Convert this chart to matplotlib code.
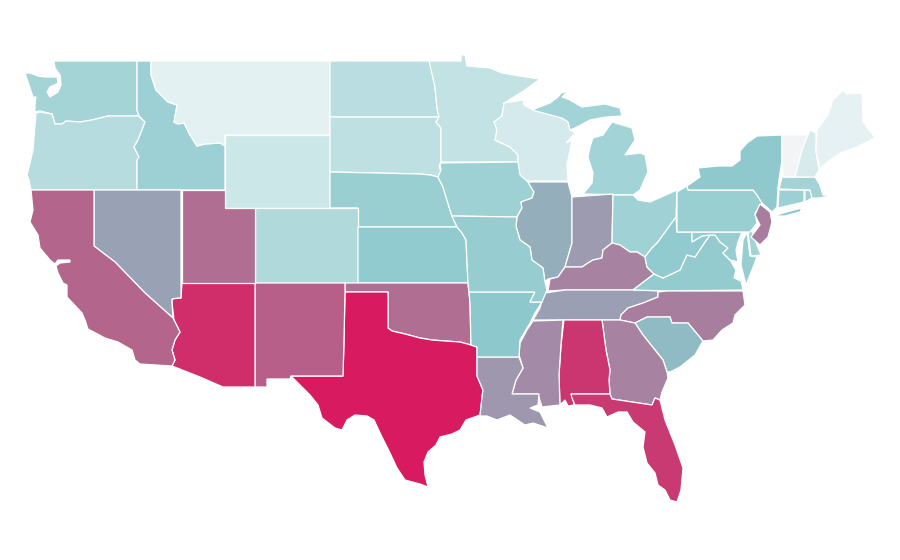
import matplotlib
matplotlib.use('Agg')
import matplotlib.pyplot as plt
from matplotlib.colors import LinearSegmentedColormap, Normalize

# state outlines
WA = [(54,61),(137,61),(137,110),(138,113),(139,116),(108,116),(100,118),(92,120),(80,122),(66,121),(62,124),(55,124),(52,114),(40,111),(35,112),(35,105),(36,97),(33,97),(30,88),(25,73),(30,73),(38,76),(45,77),(57,77),(58,83),(50,87),(47,92),(50,97),(58,92),(61,85),(60,75),(55,68)]
OR = [(36,113),(40,112),(52,114),(55,124),(62,124),(66,121),(80,122),(92,120),(100,118),(108,116),(139,116),(145,122),(142,130),(138,140),(134,147),(139,157),(137,160),(137,190),(31,190),(29,180),(27,175),(30,163),(33,150),(34,138)]
ID = [(137,61),(151,61),(151,75),(156,90),(168,102),(177,105),(174,122),(178,124),(184,123),(190,135),(197,146),(205,144),(220,143),(225,146),(225,190),(137,190),(137,160),(139,157),(134,147),(138,140),(142,130),(145,122),(139,116),(137,110)]
MT = [(151,61),(330,61),(330,135),(225,135),(225,146),(220,143),(205,144),(197,146),(190,135),(184,123),(178,124),(174,122),(177,105),(168,102),(156,90),(151,75)]
WY = [(225,135),(330,135),(330,208),(225,208)]
ND = [(330,61),(429,61),(430,63),(435,87),(437,108),(439,117),(330,117)]
SD = [(330,117),(439,117),(436,122),(441,128),(441,162),(439,166),(441,172),(438,177),(430,175),(420,174),(330,172)]
NE = [(330,172),(420,174),(430,175),(438,177),(443,187),(447,200),(450,210),(452,216),(457,227),(358,227),(358,208),(330,208)]
CO = [(255,208),(358,208),(358,283),(255,283)]
KS = [(358,227),(457,227),(462,233),(466,240),(468,283),(358,283)]
OK = [(345,283),(468,283),(470,303),(471,345),(460,342),(445,341),(432,340),(420,338),(405,334),(392,331),(388,328),(388,292),(345,292)]
TX = [(345,292),(388,292),(388,328),(392,331),(405,334),(420,338),(432,340),(445,341),(460,342),(471,345),(477,347),(477,376),(483,390),(480,415),(466,420),(460,430),(452,434),(440,437),(436,445),(428,452),(424,462),(425,475),(428,487),(420,484),(405,480),(397,468),(390,453),(382,437),(374,420),(367,416),(355,415),(347,420),(342,430),(335,428),(322,418),(318,405),(310,395),(300,385),(291,376),(343,376),(344,340)]
NM = [(255,283),(345,283),(345,292),(344,340),(343,376),(291,376),(290,379),(267,379),(267,387),(255,387)]
AZ = [(182,283),(255,283),(255,387),(223,387),(200,377),(172,366),(175,360),(172,350),(175,340),(180,332),(174,320),(172,303),(172,299),(178,298),(181,298)]
NV = [(94,190),(181,190),(181,298),(178,298),(172,299),(172,303),(173,318),(145,293),(115,262),(94,246)]
CA = [(31,190),(94,190),(94,246),(115,262),(145,293),(173,318),(180,332),(175,340),(172,350),(175,360),(172,366),(140,364),(135,360),(132,350),(118,342),(105,338),(88,329),(85,320),(82,313),(67,297),(67,285),(63,283),(58,273),(56,266),(60,263),(70,262),(70,260),(58,260),(55,264),(50,260),(40,248),(38,235),(30,222),(33,210)]
UT = [(182,190),(225,190),(225,208),(255,208),(255,283),(182,283)]
MN = [(429,61),(461,61),(461,55),(465,55),(467,66),(490,68),(502,73),(520,76),(540,79),(525,90),(504,103),(502,116),(494,122),(497,130),(495,140),(510,147),(518,155),(518,162),(441,162),(441,128),(436,122),(439,117),(437,108),(435,87)]
WI = [(504,103),(523,100),(524,105),(533,110),(562,118),(568,122),(570,130),(575,133),(566,143),(572,140),(570,150),(567,165),(568,181),(527,181),(520,177),(518,162),(518,155),(510,147),(495,140),(497,130),(494,122),(502,116)]
MI_UP = [(532,110),(550,103),(558,97),(561,93),(568,91),(562,97),(570,100),(582,107),(605,104),(620,108),(622,116),(606,117),(590,120),(575,128),(570,130),(568,122),(562,118)]
MI_LOW = [(612,122),(632,128),(635,140),(625,155),(640,153),(645,155),(648,172),(640,190),(633,195),(583,194),(592,183),(593,173),(588,157),(590,147),(593,138),(603,135)]
IA = [(440,163),(518,162),(520,175),(528,182),(534,192),(532,198),(521,202),(522,208),(517,217),(452,216),(450,210),(443,187),(438,177),(441,170)]
IL = [(528,182),(568,182),(572,197),(572,243),(565,267),(558,277),(548,279),(545,282),(543,268),(532,260),(530,247),(520,240),(516,226),(517,217),(522,208),(521,202),(532,198),(534,192)]
IN = [(572,197),(613,194),(612,243),(603,250),(602,258),(593,260),(588,263),(582,267),(565,267),(572,243)]
OH = [(613,195),(633,195),(638,200),(650,202),(677,190),(676,217),(658,242),(652,248),(645,257),(637,252),(630,252),(620,245),(612,243)]
KY = [(612,243),(620,245),(630,252),(637,252),(645,257),(647,267),(654,274),(633,290),(565,290),(548,291),(550,279),(558,277),(565,267),(582,267),(588,263),(593,260),(602,258),(603,250)]
TN = [(545,293),(565,290),(633,290),(667,291),(658,292),(658,297),(643,303),(628,308),(621,315),(620,320),(533,320),(540,308),(542,300)]
VA = [(654,274),(663,278),(680,270),(687,255),(695,257),(705,242),(710,235),(715,235),(720,242),(728,248),(723,253),(730,260),(736,270),(734,278),(741,281),(743,290),(667,291),(633,290)]
WV = [(645,257),(652,248),(658,242),(676,217),(677,232),(692,232),(692,242),(702,236),(710,235),(705,242),(695,257),(687,255),(680,270),(663,278),(654,274),(647,267)]
MD = [(692,232),(742,232),(738,242),(736,250),(738,262),(730,260),(723,253),(728,248),(720,242),(715,235),(710,235),(702,236),(692,242)]
MD_EAST = [(743,240),(747,232),(750,256),(757,257),(752,270),(746,285),(741,265)]
DE = [(748,232),(752,231),(757,245),(761,255),(751,256)]
PA = [(677,192),(687,186),(688,190),(753,190),(757,195),(762,203),(755,213),(757,223),(750,232),(677,232)]
NY = [(688,190),(687,186),(700,177),(698,168),(718,166),(732,166),(740,160),(740,151),(747,143),(757,136),(782,135),(782,160),(778,187),(777,207),(772,212),(762,203),(757,195),(753,190)]
LONG_ISLAND = [(773,216),(790,211),(802,208),(800,212),(785,216)]
NJ = [(760,204),(770,212),(772,222),(768,237),(760,245),(751,237),(760,225),(755,215)]
CT = [(779,190),(804,190),(804,202),(778,208)]
RI = [(805,190),(810,190),(812,198),(805,202)]
MA = [(782,177),(815,177),(820,185),(823,195),(832,195),(820,198),(812,198),(810,190),(779,189)]
VT = [(782,135),(808,135),(802,150),(795,177),(783,177),(782,160)]
NH = [(808,135),(810,130),(816,133),(816,152),(819,170),(815,177),(795,177),(802,150)]
ME = [(817,130),(828,115),(833,100),(843,90),(847,94),(862,93),(863,122),(875,138),(857,147),(840,153),(830,160),(820,168),(816,152)]
NC = [(667,291),(743,291),(745,305),(735,315),(733,323),(722,330),(713,340),(703,341),(688,323),(672,323),(670,317),(647,317),(635,323),(620,320),(621,315),(628,308),(643,303),(658,297),(658,292)]
SC = [(635,323),(647,317),(670,317),(672,323),(688,323),(703,341),(695,355),(680,367),(670,372),(667,372),(663,360),(655,350),(643,335)]
GA = [(602,320),(620,320),(635,323),(643,335),(655,350),(663,360),(667,372),(668,378),(662,392),(660,400),(655,398),(652,405),(612,399),(610,394),(609,380),(610,370),(606,350)]
AL = [(564,320),(602,320),(606,350),(610,370),(609,380),(610,394),(571,394),(573,398),(574,405),(568,406),(565,400),(560,405),(559,375),(561,345)]
FL = [(571,394),(610,394),(612,399),(652,405),(655,398),(660,400),(665,420),(675,445),(683,468),(681,490),(677,502),(670,500),(665,490),(658,485),(655,473),(647,463),(643,447),(645,432),(633,422),(627,412),(618,412),(607,417),(602,408),(590,405),(575,405),(572,398)]
MS = [(533,321),(563,320),(561,345),(559,375),(560,405),(542,407),(538,394),(512,394),(516,380),(523,368),(519,355),(520,343),(527,330)]
LA = [(477,357),(519,357),(523,368),(516,380),(512,394),(539,394),(538,405),(530,408),(540,412),(548,428),(533,423),(525,425),(510,415),(497,420),(487,416),(480,416),(482,397),(483,390),(477,376)]
AR = [(469,292),(535,292),(530,302),(542,302),(535,313),(530,323),(520,340),(519,357),(477,357),(477,347),(471,345),(470,303)]
MO = [(452,216),(517,217),(516,226),(520,240),(530,247),(532,260),(543,268),(545,282),(547,290),(542,302),(530,302),(535,292),(469,292),(468,283),(466,240),(462,233),(457,227)]

# value of each shape, pale teal at the low end, crimson at the high end
shapes = [WA, OR, ID, MT, WY, ND, SD, NE, CO, KS, OK, TX, NM, AZ, NV, CA, UT, MN, WI, MI_UP, MI_LOW, IA, IL, IN, OH, KY, TN, VA, WV, MD, MD_EAST, DE, PA, NY, LONG_ISLAND, NJ, CT, RI, MA, VT, NH, ME, NC, SC, GA, AL, FL, MS, LA, AR, MO]
values = [30.7, 24, 33.4, 7, 15.5, 23, 20.6, 34.6, 26.8, 37.7, 70, 100, 77, 94, 50, 75, 70, 19.4, 12.8, 31.5, 31.5, 33, 47, 52, 32.2, 59, 51, 37.3, 37.7, 35.4, 35.4, 31, 34.6, 38.8, 38.8, 61, 33.4, 33, 31, 0.4, 12.4, 6, 60.5, 43.5, 59, 91, 89.5, 57, 53.5, 40, 35.8]

color_stops = [(0.0, '#f3f4f6'), (0.07, '#e2f1f2'), (0.40, '#8cc8cc'), (0.50, '#99a3b5'), (0.60, '#a87f9f'), (0.75, '#b4668d'), (1.0, '#d81b60')]
cmap = LinearSegmentedColormap.from_list('teal_crimson', color_stops)
norm = Normalize(0, 100)

fig = plt.figure(figsize=(9, 5.6), dpi=100)
ax = fig.add_axes([0, 0, 1, 1])
for outline, value in zip(shapes, values):
    xs = [p[0] for p in outline]
    ys = [p[1] for p in outline]
    ax.fill(xs, ys, facecolor=cmap(norm(value)), edgecolor='white', linewidth=0.9)

ax.set_xlim(0, 900)
ax.set_ylim(560, 0)
ax.axis('off')
fig.savefig('out.png', dpi=100)
